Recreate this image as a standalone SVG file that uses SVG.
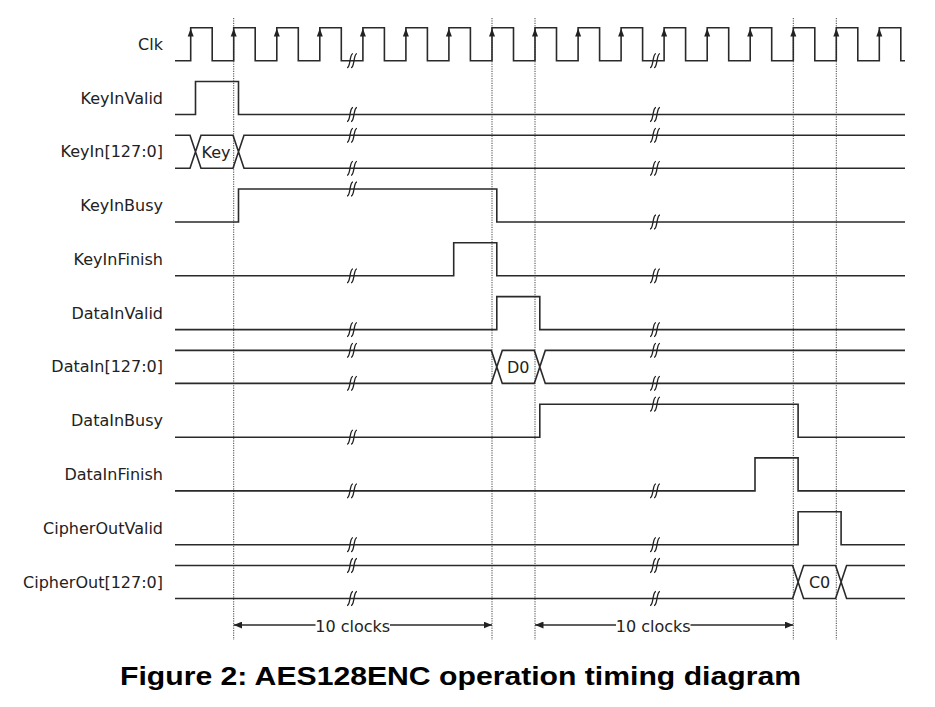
<svg xmlns="http://www.w3.org/2000/svg" xmlns:xlink="http://www.w3.org/1999/xlink" width="935" height="707" viewBox="0 0 935 707">
<style>
.bg{fill:#fff}
.sig{fill:none;stroke:#2a2a2a;stroke-width:1.6;stroke-linejoin:miter}
.lbl{font-family:"DejaVu Sans",Verdana,sans-serif;font-size:16px;fill:#222;text-anchor:end}
.val{font-family:"DejaVu Sans",Verdana,sans-serif;font-size:16px;fill:#222;text-anchor:middle}
.dot{fill:none;stroke:#444;stroke-width:1;stroke-dasharray:1.2 1.2}
.dim{fill:none;stroke:#2a2a2a;stroke-width:1.3}
.brk{fill:none;stroke:#222;stroke-width:1.3}
.title{font-family:"Liberation Sans",Arial,sans-serif;font-weight:bold;font-size:26px;fill:#000}
</style>
<defs>
<marker id="ah" markerUnits="userSpaceOnUse" markerWidth="9" markerHeight="7" refX="8.5" refY="3.5" orient="auto">
<path d="M0,0 L8.5,3.5 L0,7 z" fill="#222"/>
</marker>
<polygon id="ca" points="0,28.5 -3,36.5 3,36.5" fill="#222"/>
<path id="brk" class="brk" d="M-5,7 C-3,7 -2.6,3 -2,0 C-1.4,-3 -1,-7 1,-7 M-1,7 C1,7 1.4,3 2,0 C2.6,-3 3,-7 5,-7"/>
</defs>
<rect class="bg" x="0" y="0" width="935" height="707"/>

<g id="guides">
<line class="dot" x1="233.7" y1="18" x2="233.7" y2="640"/>
<line class="dot" x1="492" y1="18" x2="492" y2="640"/>
<line class="dot" x1="535" y1="18" x2="535" y2="640"/>
<line class="dot" x1="793.3" y1="18" x2="793.3" y2="640"/>
<line class="dot" x1="836.3" y1="18" x2="836.3" y2="640"/>
</g>

<g id="Clk">
<text class="lbl" x="163" y="49.7">Clk</text>
<path class="sig" d="M175,60.7 H190.7 V27.7 H212.2 V60.7 H233.7 V27.7 H255.2 V60.7 H276.8 V27.7 H298.3 V60.7 H319.8 V27.7 H341.3 V60.7 H362.9 V27.7 H384.4 V60.7 H405.9 V27.7 H427.4 V60.7 H448.9 V27.7 H470.4 V60.7 H492 V27.7 H513.5 V60.7 H535 V27.7 H556.5 V60.7 H578.1 V27.7 H599.6 V60.7 H621.1 V27.7 H642.6 V60.7 H664.1 V27.7 H685.6 V60.7 H707.2 V27.7 H728.7 V60.7 H750.2 V27.7 H771.7 V60.7 H793.3 V27.7 H814.8 V60.7 H836.3 V27.7 H857.8 V60.7 H879.3 V27.7 H900.8 V60.7 H905"/>
<use href="#ca" x="190.7"/><use href="#ca" x="233.7"/><use href="#ca" x="276.8"/><use href="#ca" x="319.8"/>
<use href="#ca" x="362.9"/><use href="#ca" x="405.9"/><use href="#ca" x="448.9"/><use href="#ca" x="492"/>
<use href="#ca" x="535"/><use href="#ca" x="578.1"/><use href="#ca" x="621.1"/><use href="#ca" x="664.1"/>
<use href="#ca" x="707.2"/><use href="#ca" x="750.2"/><use href="#ca" x="793.3"/><use href="#ca" x="836.3"/>
<use href="#ca" x="879.3"/>
<use href="#brk" x="352" y="60.7"/><use href="#brk" x="655" y="60.7"/>
</g>

<g id="KeyInValid">
<text class="lbl" x="163" y="103.5">KeyInValid</text>
<path class="sig" d="M175,114.5 H195.5 V81.5 H238.5 V114.5 H905"/>
<use href="#brk" x="352" y="114.5"/><use href="#brk" x="655" y="114.5"/>
</g>

<g id="KeyIn">
<text class="lbl" x="163" y="157.3">KeyIn[127:0]</text>
<path class="sig" d="M175,135.3 H190 L201,168.3 H233 L244,135.3 H905 M175,168.3 H190 L201,135.3 H233 L244,168.3 H905"/>
<text class="val" x="216" y="157.8">Key</text>
<use href="#brk" x="352" y="135.3"/><use href="#brk" x="352" y="168.3"/>
<use href="#brk" x="655" y="135.3"/><use href="#brk" x="655" y="168.3"/>
</g>

<g id="KeyInBusy">
<text class="lbl" x="163" y="211">KeyInBusy</text>
<path class="sig" d="M175,222 H238.5 V189 H496.8 V222 H905"/>
<use href="#brk" x="352" y="189"/><use href="#brk" x="655" y="222"/>
</g>

<g id="KeyInFinish">
<text class="lbl" x="163" y="264.8">KeyInFinish</text>
<path class="sig" d="M175,275.8 H453.7 V242.8 H496.8 V275.8 H905"/>
<use href="#brk" x="352" y="275.8"/><use href="#brk" x="655" y="275.8"/>
</g>

<g id="DataInValid">
<text class="lbl" x="163" y="318.6">DataInValid</text>
<path class="sig" d="M175,329.6 H496.8 V296.6 H539.8 V329.6 H905"/>
<use href="#brk" x="352" y="329.6"/><use href="#brk" x="655" y="329.6"/>
</g>

<g id="DataIn">
<text class="lbl" x="163" y="372.4">DataIn[127:0]</text>
<path class="sig" d="M175,350.4 H491.3 L502.3,383.4 H534.3 L545.3,350.4 H905 M175,383.4 H491.3 L502.3,350.4 H534.3 L545.3,383.4 H905"/>
<text class="val" x="518.3" y="372.9">D0</text>
<use href="#brk" x="352" y="350.4"/><use href="#brk" x="352" y="383.4"/>
<use href="#brk" x="655" y="350.4"/><use href="#brk" x="655" y="383.4"/>
</g>

<g id="DataInBusy">
<text class="lbl" x="163" y="426.2">DataInBusy</text>
<path class="sig" d="M175,437.2 H539.8 V404.2 H798.1 V437.2 H905"/>
<use href="#brk" x="352" y="437.2"/><use href="#brk" x="655" y="404.2"/>
</g>

<g id="DataInFinish">
<text class="lbl" x="163" y="479.9">DataInFinish</text>
<path class="sig" d="M175,490.9 H755 V457.9 H798.1 V490.9 H905"/>
<use href="#brk" x="352" y="490.9"/><use href="#brk" x="655" y="490.9"/>
</g>

<g id="CipherOutValid">
<text class="lbl" x="163" y="533.7">CipherOutValid</text>
<path class="sig" d="M175,544.7 H798.1 V511.7 H841.1 V544.7 H905"/>
<use href="#brk" x="352" y="544.7"/><use href="#brk" x="655" y="544.7"/>
</g>

<g id="CipherOut">
<text class="lbl" x="163" y="587.5">CipherOut[127:0]</text>
<path class="sig" d="M175,565.5 H792.6 L803.6,598.5 H835.6 L846.6,565.5 H905 M175,598.5 H792.6 L803.6,565.5 H835.6 L846.6,598.5 H905"/>
<text class="val" x="819.6" y="588">C0</text>
<use href="#brk" x="352" y="565.5"/><use href="#brk" x="352" y="598.5"/>
<use href="#brk" x="655" y="565.5"/><use href="#brk" x="655" y="598.5"/>
</g>

<g id="connectors">
<line class="dim" x1="315.5" y1="625" x2="233.7" y2="625" marker-end="url(#ah)"/>
<line class="dim" x1="390" y1="625" x2="492" y2="625" marker-end="url(#ah)"/>
<text class="val" x="352.7" y="631.5">10 clocks</text>
<line class="dim" x1="616" y1="625" x2="535" y2="625" marker-end="url(#ah)"/>
<line class="dim" x1="690.5" y1="625" x2="793.3" y2="625" marker-end="url(#ah)"/>
<text class="val" x="653.2" y="631.5">10 clocks</text>
</g>

<text class="title" x="120" y="685" textLength="681" lengthAdjust="spacingAndGlyphs">Figure 2: AES128ENC operation timing diagram</text>
</svg>
